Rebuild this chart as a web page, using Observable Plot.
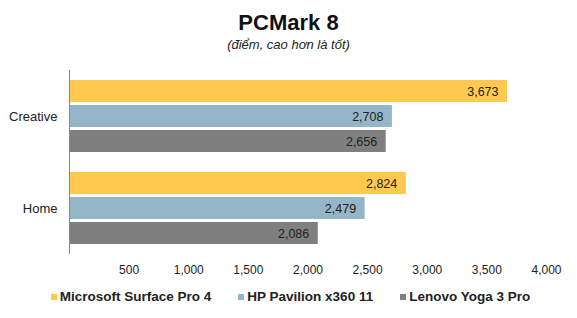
<!DOCTYPE html>
<html><head><meta charset="utf-8">
<script src="https://cdn.jsdelivr.net/npm/d3@7"></script>
<script src="https://cdn.jsdelivr.net/npm/@observablehq/plot@0.6"></script>
<style>
body{margin:0;background:#fff;font-family:"Liberation Sans",Arial,sans-serif;width:577px;}
#title{font-weight:bold;font-size:22px;text-align:center;padding-top:10px;height:26px;line-height:26px;color:#111;}
#subtitle{font-style:italic;font-size:13px;text-align:center;margin-top:1px;height:16px;line-height:16px;color:#222;}
#legend{display:flex;justify-content:center;gap:27px;font-weight:bold;font-size:13.5px;line-height:16px;color:#222;margin-top:11px;padding-left:4px;}
#legend span.sw{display:inline-block;width:6px;height:6px;margin-right:3px;vertical-align:middle;}
svg{display:block;}
</style></head>
<body>
<div id="title">PCMark 8</div>
<div id="subtitle">(điểm, cao hơn là tốt)</div>
<div id="chart"></div>
<div id="legend"></div>
<script>
const categories = ["Creative", "Home"];
const series = ["Microsoft Surface Pro 4", "HP Pavilion x360 11", "Lenovo Yoga 3 Pro"];
const creativeValues = [3673, 2708, 2656];
const homeValues = [2824, 2479, 2086];
const colors = ["#FFC94F", "#94B6C8", "#7F7F7F"];
const xTicks = [500, 1000, 1500, 2000, 2500, 3000, 3500, 4000];

const valuesByCategory = [creativeValues, homeValues];
const data = categories.flatMap((c, i) => series.map((s, j) => ({category: c, series: s, value: valuesByCategory[i][j]})));
const fmt = d3.format(",");

const chart = Plot.plot({
  width: 577, height: 225,
  marginLeft: 69, marginRight: 31, marginTop: 17, marginBottom: 24,
  style: {fontFamily: "Liberation Sans, Arial, sans-serif", fontSize: "12px", color: "#222", background: "#fff"},
  x: {domain: [0, 4000], ticks: xTicks, tickFormat: fmt, tickSize: 0, tickPadding: 11, label: null},
  y: {domain: series, axis: null, paddingInner: 0.135, paddingOuter: 0.348},
  fy: {domain: categories, axis: "left", paddingInner: 0, paddingOuter: 0, label: null, tickSize: 0, tickPadding: 12},
  color: {domain: series, range: colors},
  marks: [
    Plot.barX(data, {x: "value", y: "series", fy: "category", fill: "series"}),
    Plot.text(data, {x: "value", y: "series", fy: "category", text: d => fmt(d.value), textAnchor: "end", dx: -9, fontSize: 12.5, fill: "#222"}),
    Plot.ruleX([0], {stroke: "#888"})
  ]
});
chart.querySelectorAll("g[aria-label='fy-axis tick label'] text, g[aria-label='fy-axis'] text").forEach(t => t.setAttribute("font-size", "13"));
document.getElementById("chart").appendChild(chart);

const legend = document.getElementById("legend");
series.forEach((s, i) => {
  const item = document.createElement("div");
  item.innerHTML = `<span class="sw" style="background:${colors[i]}"></span>${s}`;
  legend.appendChild(item);
});
</script>
</body></html>
